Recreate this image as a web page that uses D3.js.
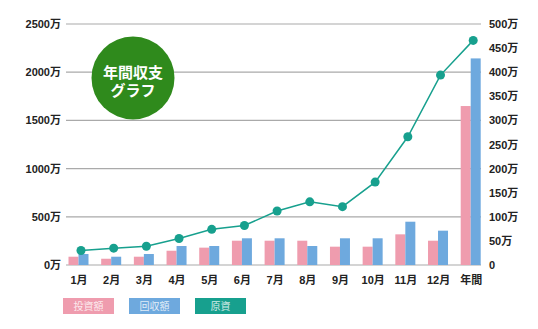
<!DOCTYPE html>
<html><head><meta charset="utf-8">
<script src="https://cdn.jsdelivr.net/npm/d3@7/dist/d3.min.js"></script>
<style>
body{margin:0;background:#fff;}
text{font-family:"Liberation Sans","Noto Sans CJK JP",sans-serif;}
</style></head>
<body><svg id="c" width="538" height="329"></svg>
<script>
const categories = ["1月","2月","3月","4月","5月","6月","7月","8月","9月","10月","11月","12月","年間"];
const investment = [86,65,86,148,180,252,252,252,190,190,318,252,1649];   // 投資額 (万, left axis)
const recovery   = [114,86,114,197,197,277,277,197,277,277,449,356,2143]; // 回収額 (万, left axis)
const principal  = [30,35,39,55,74,82,112,131,121,172,266,394,466];       // 原資 (万, right axis)
const leftTicks  = [0,500,1000,1500,2000,2500];
const rightTicks = [0,50,100,150,200,250,300,350,400,450,500];
const legendItems = ["投資額","回収額","原資"];
const colors = {pink:"#ef9cae", blue:"#6ea9de", teal:"#17a08e", green:"#2f8a1c", grid:"#aaaaaa"};

const svg = d3.select("#c");
const x = d3.scalePoint().domain(categories).range([78.5, 470.7]);
const yL = d3.scaleLinear().domain([0,2500]).range([265,24]);
const yR = d3.scaleLinear().domain([0,500]).range([265,24]);
const bw = 10;
const ff = "'Liberation Sans','Noto Sans CJK JP',sans-serif";

// grid
svg.append("g").selectAll("line").data(leftTicks).join("line")
  .attr("x1",66).attr("x2",481).attr("y1",d=>yL(d)).attr("y2",d=>yL(d))
  .attr("stroke",colors.grid).attr("stroke-width",1.2);

// left axis labels
const gl = svg.append("g").attr("transform","translate(61,0)")
  .call(d3.axisLeft(yL).tickValues(leftTicks).tickSize(0).tickPadding(0).tickFormat(d=>d+"万"));
gl.select(".domain").remove();
gl.selectAll("text").attr("font-size",11).attr("font-weight","bold").attr("fill","#222").attr("font-family",ff);

// right axis labels
const gr = svg.append("g").attr("transform","translate(489,0)")
  .call(d3.axisRight(yR).tickValues(rightTicks).tickSize(0).tickPadding(0).tickFormat(d=>d===0?"0":d+"万"));
gr.select(".domain").remove();
gr.selectAll("text").attr("font-size",11).attr("font-weight","bold").attr("fill","#222").attr("font-family",ff);

// x axis labels
const gx = svg.append("g").attr("transform","translate(0,276)")
  .call(d3.axisBottom(x).tickSize(0).tickPadding(0));
gx.select(".domain").remove();
gx.selectAll("text").attr("font-size",11).attr("font-weight","bold").attr("fill","#222").attr("font-family",ff);

// bars
svg.append("g").selectAll("rect").data(investment).join("rect")
  .attr("x",(d,i)=>x(categories[i])-bw).attr("width",bw)
  .attr("y",d=>yL(d)).attr("height",d=>yL(0)-yL(d)).attr("fill",colors.pink);
svg.append("g").selectAll("rect").data(recovery).join("rect")
  .attr("x",(d,i)=>x(categories[i])).attr("width",bw)
  .attr("y",d=>yL(d)).attr("height",d=>yL(0)-yL(d)).attr("fill",colors.blue);

// line
const lx = (d,i)=>x(categories[i])+2.5;
svg.append("path").datum(principal)
  .attr("d", d3.line().x(lx).y(d=>yR(d)))
  .attr("fill","none").attr("stroke",colors.teal).attr("stroke-width",1.5);
svg.append("g").selectAll("circle").data(principal).join("circle")
  .attr("cx",lx).attr("cy",d=>yR(d)).attr("r",4.5).attr("fill",colors.teal);

// badge
svg.append("circle").attr("cx",133).attr("cy",78).attr("r",41.5).attr("fill",colors.green);
svg.append("text").attr("x",133).attr("y",78).attr("text-anchor","middle")
  .attr("font-size",15).attr("font-weight","bold").attr("fill","#fff")
  .attr("font-family","'Noto Sans CJK JP',sans-serif").text("年間収支");
svg.append("text").attr("x",133).attr("y",96).attr("text-anchor","middle")
  .attr("font-size",15).attr("font-weight","bold").attr("fill","#fff")
  .attr("font-family","'Noto Sans CJK JP',sans-serif").text("グラフ");

// legend
const lcol = [colors.pink, colors.blue, colors.teal];
const lg = svg.append("g").selectAll("g").data(legendItems).join("g")
  .attr("transform",(d,i)=>`translate(${63+i*66},298)`);
lg.append("rect").attr("width",51).attr("height",16).attr("fill",(d,i)=>lcol[i]);
lg.append("text").attr("x",25.5).attr("y",12).attr("text-anchor","middle")
  .attr("font-size",10).attr("fill","#fff").attr("fill-opacity",0.8)
  .attr("font-family","'Noto Sans CJK JP',sans-serif").text(d=>d);
</script></body></html>
